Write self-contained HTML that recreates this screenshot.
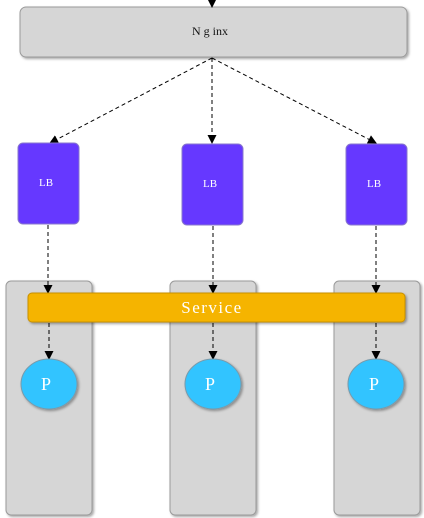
<!DOCTYPE html>
<html><head><meta charset="utf-8"><style>
html,body{margin:0;padding:0;background:#fff;width:424px;height:518px;overflow:hidden}
svg{display:block}
text{font-family:"Liberation Serif",serif}
</style></head><body>
<svg width="424" height="518" viewBox="0 0 424 518">
<defs>
<marker id="ah" markerWidth="9" markerHeight="9" refX="8" refY="4.5" orient="auto" markerUnits="userSpaceOnUse"><path d="M0,0 L9,4.5 L0,9 z" fill="#000"/></marker>
<filter id="sh" x="-10%" y="-10%" width="130%" height="130%"><feDropShadow dx="1.5" dy="1.5" stdDeviation="1.2" flood-color="#000" flood-opacity="0.35"/></filter>
</defs>
<g fill="#d6d6d6" stroke="#9a9a9a" stroke-width="1" filter="url(#sh)">
<rect x="6" y="281" width="86" height="234" rx="5"/>
<rect x="170" y="281" width="86" height="234" rx="5"/>
<rect x="334" y="281" width="86" height="234" rx="5"/>
</g>
<rect x="20" y="7" width="387" height="50" rx="6" fill="#d6d6d6" stroke="#9a9a9a" filter="url(#sh)"/>
<text x="210" y="35" font-size="12" text-anchor="middle" fill="#111">N g inx</text>
<line x1="212" y1="0" x2="212" y2="7" stroke="#000" marker-end="url(#ah)"/>
<g stroke="#000" stroke-dasharray="4,3" fill="none">
<line x1="212" y1="58" x2="50" y2="143" marker-end="url(#ah)"/>
<line x1="212" y1="58" x2="212" y2="143" marker-end="url(#ah)"/>
<line x1="212" y1="58" x2="376" y2="143" marker-end="url(#ah)"/>
<line x1="48" y1="225" x2="48" y2="293" marker-end="url(#ah)"/>
<line x1="213" y1="226" x2="213" y2="293" marker-end="url(#ah)"/>
<line x1="376" y1="226" x2="376" y2="293" marker-end="url(#ah)"/>
<line x1="49" y1="323" x2="49" y2="359" marker-end="url(#ah)"/>
<line x1="213" y1="323" x2="213" y2="359" marker-end="url(#ah)"/>
<line x1="376" y1="323" x2="376" y2="359" marker-end="url(#ah)"/>
</g>
<g fill="#6638ff" stroke="#8877cc">
<rect x="18" y="143" width="61" height="81" rx="5"/>
<rect x="182" y="144" width="61" height="81" rx="5"/>
<rect x="346" y="144" width="61" height="81" rx="5"/>
</g>
<g font-size="11" fill="#fff" text-anchor="middle">
<text x="46" y="186">LB</text>
<text x="210" y="187">LB</text>
<text x="374" y="187">LB</text>
</g>
<rect x="28" y="293" width="377" height="29" rx="4" fill="#f5b400" stroke="#c89000" filter="url(#sh)"/>
<text x="212" y="313" font-size="17" fill="#fff" text-anchor="middle" letter-spacing="1.5">Service</text>
<g fill="#33c4ff" stroke="#7a9aaa" filter="url(#sh)">
<ellipse cx="49" cy="384" rx="28" ry="25"/>
<ellipse cx="213" cy="384" rx="28" ry="25"/>
<ellipse cx="376" cy="384" rx="28" ry="25"/>
</g>
<g font-size="18" fill="#fff" text-anchor="middle">
<text x="46" y="390">P</text>
<text x="210" y="390">P</text>
<text x="374" y="390">P</text>
</g>
</svg>
</body></html>
